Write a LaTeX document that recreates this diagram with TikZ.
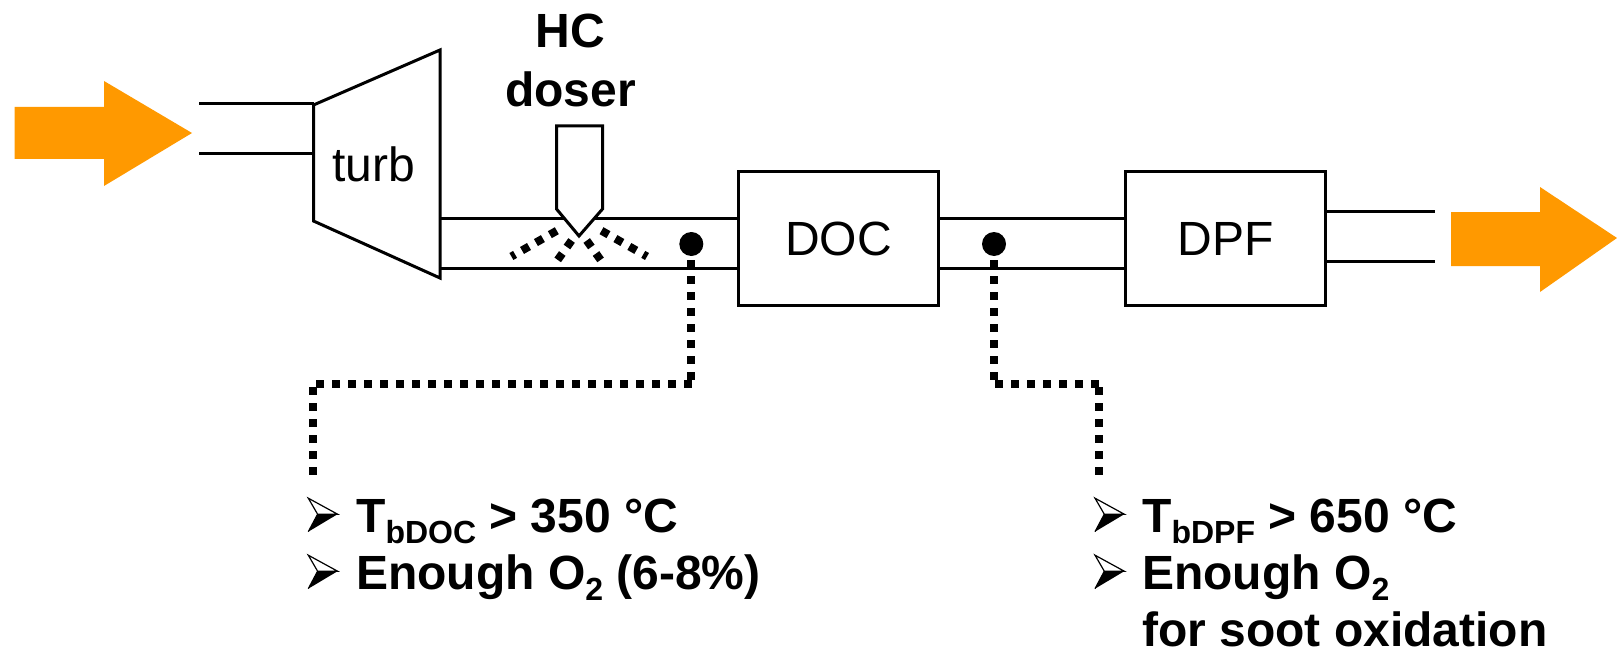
\documentclass[tikz,border=0pt]{standalone}
\usepackage{fontspec}
\setmainfont{Liberation Sans}
\definecolor{orange1}{HTML}{FF9900}
\tikzset{
  wall/.style={draw=black,line width=3pt,line join=miter},
  blockbox/.style={wall,fill=white,minimum width=200pt,minimum height=134pt,inner sep=0pt,font=\fontsize{48}{48}\selectfont},
  plain/.style={inner sep=0pt,anchor=base,font=\fontsize{48}{48}\selectfont},
  strong/.style={inner sep=0pt,anchor=base,font=\fontsize{48}{48}\selectfont\bfseries},
  item/.style={inner sep=0pt,anchor=base west,font=\fontsize{48}{48}\selectfont\bfseries},
  flow/.style={fill=orange1,draw=none},
  dotline/.style={draw=black,line width=8pt,dash pattern=on 8pt off 8pt},
  spray/.style={draw=black,line width=8pt,dash pattern=on 8pt off 8pt},
  probe/.style={circle,fill=black,draw=none,minimum size=24pt,inner sep=0pt},
  pics/bulletmark/.style={code={
    \draw[line width=1.2pt,line join=miter,fill=white] (0,-33.5) -- (29.3,-17.5) -- (9.3,-17.5) -- cycle;
    \fill[black] (0,0) -- (29.3,-17.5) -- (9.3,-17.5) -- cycle;
    \draw[line width=1.2pt,line join=miter] (0,0) -- (9.3,-17.5);
  }}
}
\newcommand{\subt}[1]{\raisebox{-11pt}{\fontsize{32}{32}\selectfont #1}}
\begin{document}
\begin{tikzpicture}[x=1pt,y=-1pt]
\useasboundingbox (0,0) rectangle (1617,650);
% flow arrows
\fill[flow] (14.5,107) -- (104,107) -- (104,81) -- (192,133) -- (104,186) -- (104,159) -- (14.5,159) -- cycle;
\fill[flow] (1451,212) -- (1540,212) -- (1540,187) -- (1617,238) -- (1540,292) -- (1540,266) -- (1451,266) -- cycle;
% named points
\coordinate (inT) at (199,104);
\coordinate (inB) at (199,154);
\coordinate (turbLT) at (313.5,104);
\coordinate (turbLB) at (313.5,154);
\coordinate (pipeAT) at (440,218);
\coordinate (pipeAB) at (440,268);
% turbine
\draw[wall] (313.5,105) -- (440,50) -- (440,278) -- (313.5,221) -- cycle;
\node[plain] (turb) at (374,182) {turb};
% blocks
\node[blockbox] (DOC) at (838.5,238.5) {DOC};
\node[blockbox] (DPF) at (1225.5,238.5) {DPF};
% pipes
\draw[wall] (inT) -- (turbLT);
\draw[wall] (inB) -- (turbLB);
\draw[wall] (pipeAT) -- (pipeAT -| DOC.west);
\draw[wall] (pipeAB) -- (pipeAB -| DOC.west);
\draw[wall] (pipeAT -| DOC.east) -- (pipeAT -| DPF.west);
\draw[wall] (pipeAB -| DOC.east) -- (pipeAB -| DPF.west);
\coordinate (outT) at (1435,211.5);
\coordinate (outB) at (1435,261);
\draw[wall] (outT -| DPF.east) -- (outT);
\draw[wall] (outB -| DPF.east) -- (outB);
% doser
\draw[wall,fill=white] (556.5,126) -- (602.5,126) -- (602.5,209) -- (579,236) -- (556.5,209) -- cycle;
\node[strong] (hc) at (570.5,48) {HC};
\node[strong] (doser) at (570.5,107) {doser};
% spray
\draw[spray] (556.8,230.7) -- (511.4,256.5);
\draw[spray] (601.5,230.7) -- (647,256.5);
\draw[spray] (571.6,240.5) -- (557.7,259.9);
\draw[spray] (586.7,240.5) -- (600.6,259.9);
% probes
\node[probe] (p1) at (691.3,244) {};
\node[probe] (p2) at (994,244) {};
\coordinate (c1s) at (691.3,260);
\coordinate (c1a) at (691.3,380);
\coordinate (c1b) at (691.5,384.3);
\coordinate (c1c) at (315.3,384.3);
\coordinate (c1d) at (313.3,387.3);
\coordinate (c1e) at (313.3,475.3);
\coordinate (c2s) at (994,260);
\coordinate (c2a) at (994,380);
\coordinate (c2b) at (995,384.3);
\coordinate (c2c) at (1100,384.3);
\coordinate (c2d) at (1099,387);
\coordinate (c2e) at (1099,475);
\draw[dotline] (c1s) -- (c1a);
\draw[dotline] (c1b) -- (c1c);
\draw[dotline] (c1d) -- (c1e);
\draw[dotline] (c2s) -- (c2a);
\draw[dotline] (c2b) -- (c2c);
\draw[dotline] (c2d) -- (c2e);
% left list
\pic at (308.3,531.7) {bulletmark};
\node[item] (t1) at (356,532) {T\subt{bDOC} > 350 °C};
\pic at (308.3,588.7) {bulletmark};
\node[item] (t2) at (356,589) {Enough O\subt{2} (6-8\%)};
% right list
\pic at (1095,531.7) {bulletmark};
\node[item] (t3) at (1142,532) {T\subt{bDPF} > 650 °C};
\pic at (1095,588.7) {bulletmark};
\node[item] (t4) at (1142,589) {Enough O\subt{2}};
\node[item] (t5) at (1142,646) {for soot oxidation};
\end{tikzpicture}
\end{document}
